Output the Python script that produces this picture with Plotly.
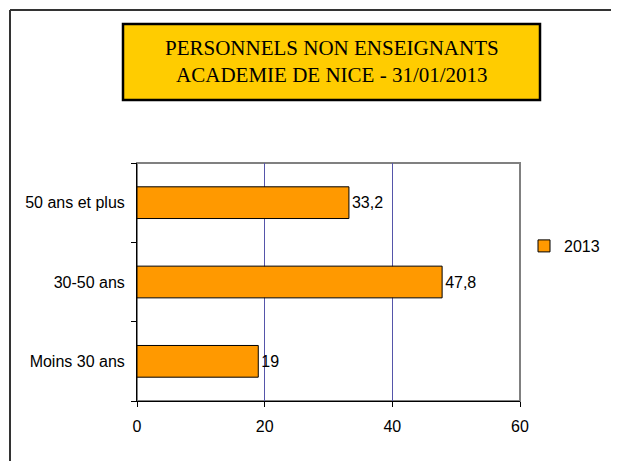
import plotly.graph_objects as go

categories = ["Moins 30 ans", "30-50 ans", "50 ans et plus"]
values_2013 = [19, 47.8, 33.2]
series_name = "2013"
title_lines = ["PERSONNELS NON ENSEIGNANTS", "ACADEMIE DE NICE - 31/01/2013"]
x_ticks = [0, 20, 40, 60]

# the page body adds an 8px margin, so the figure is laid out 8px smaller
OFF = 8
W, H = 619 - OFF, 461 - OFF
L, R, T, B = 137 - OFF, 99, 163 - OFF, 60
PW, PH = W - L - R, H - T - B


def px_x(p):
    # reference pixel -> paper coordinate
    return (p - OFF - L) / PW


def px_y(p):
    return (H - B - (p - OFF)) / PH


fig = go.Figure()
fig.add_trace(go.Bar(
    y=categories,
    x=values_2013,
    name=series_name,
    orientation="h",
    width=0.4,
    marker=dict(color="#FF9900", line=dict(color="black", width=1)),
    texttemplate="%{x}",
    textposition="outside",
    textfont=dict(family="Liberation Sans, Arial", size=16, color="black"),
    cliponaxis=False,
))

shapes = [
    # plot area frame (grey), under the black axis lines
    dict(type="rect", xref="paper", yref="paper", x0=0, x1=1, y0=0, y1=1,
         line=dict(color="#808080", width=2), layer="below"),
    # outer chart frame
    dict(type="line", xref="paper", yref="paper", x0=px_x(10), x1=px_x(640),
         y0=px_y(10), y1=px_y(10), line=dict(color="#333333", width=2)),
    dict(type="line", xref="paper", yref="paper", x0=px_x(10), x1=px_x(10),
         y0=px_y(10), y1=px_y(480), line=dict(color="#333333", width=2)),
    # title box
    dict(type="rect", xref="paper", yref="paper", x0=px_x(123), x1=px_x(540),
         y0=px_y(100), y1=px_y(24), fillcolor="#FFCC00",
         line=dict(color="black", width=2.5)),
]

fig.update_layout(
    width=W, height=H,
    margin=dict(l=L, r=R, t=T, b=B, autoexpand=False),
    paper_bgcolor="white",
    plot_bgcolor="white",
    separators=", ",
    font=dict(family="Liberation Sans, Arial", size=16, color="black"),
    shapes=shapes,
    showlegend=True,
    legend=dict(x=px_x(524), y=px_y(246), xanchor="left", yanchor="middle",
                font=dict(size=16), itemwidth=30, bgcolor="rgba(0,0,0,0)"),
    annotations=[dict(
        text="<br>".join(title_lines), xref="paper", yref="paper",
        x=px_x(331.5), y=px_y(62), xanchor="center", yanchor="middle",
        showarrow=False, align="center",
        font=dict(family="Liberation Serif, Times New Roman", size=21, color="black"),
    )],
    xaxis=dict(
        range=[0, 60], tickvals=x_ticks, showgrid=True, gridcolor="#5555AA",
        gridwidth=1, zeroline=False, showline=True, linecolor="black",
        linewidth=1, ticks="outside", ticklen=5, tickcolor="black",
        ticklabelstandoff=6, fixedrange=True,
    ),
    yaxis=dict(
        categoryorder="array", categoryarray=categories, showgrid=False,
        showline=True, linecolor="black", linewidth=1, ticks="outside",
        ticklen=5, tickcolor="black", tickson="boundaries",
        ticklabelstandoff=8, fixedrange=True,
    ),
)

fig.write_html("out.html")
